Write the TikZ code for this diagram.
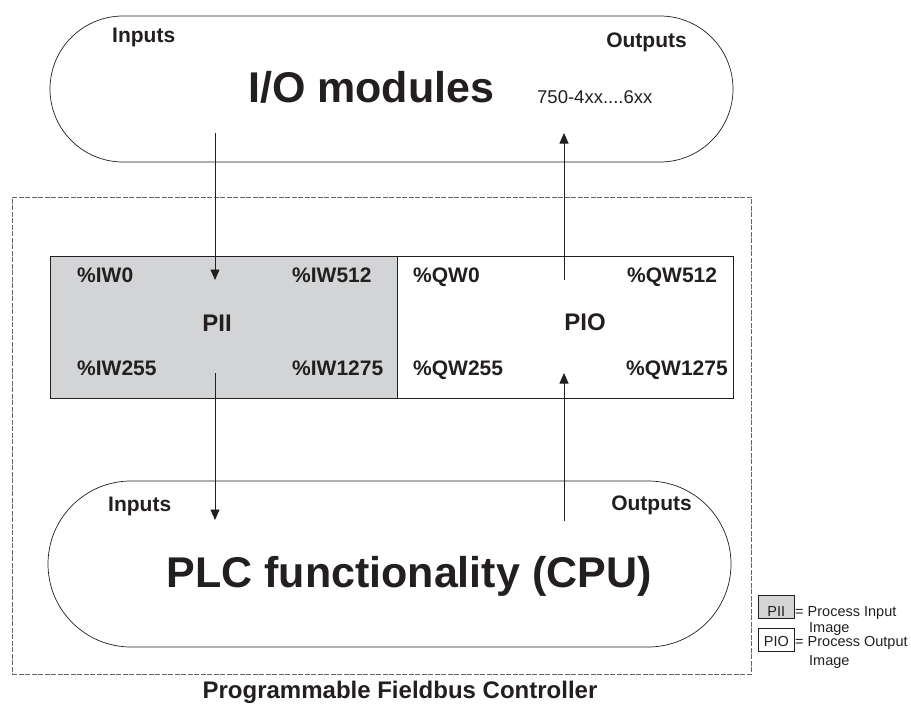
\documentclass[tikz,border=0pt]{standalone}
\usepackage{fontspec}
\setmainfont{Liberation Sans}
\usetikzlibrary{arrows.meta}
\definecolor{piigray}{RGB}{211,212,214}
\definecolor{ink}{RGB}{35,31,32}

\begin{document}
\begin{tikzpicture}[x=1pt,y=-1pt,>={Triangle[width=9pt,length=10.5pt]},
  lbl/.style={font=\fontsize{21}{21}\selectfont\bfseries,text=ink,inner sep=0pt},
  big/.style={font=\fontsize{43}{43}\selectfont\bfseries,text=ink,inner sep=0pt},
  small/.style={font=\fontsize{14.5}{14.5}\selectfont,text=ink,inner sep=0pt},
  stadium/.style={draw=ink,line width=0.7pt,minimum width=683pt,inner sep=0pt},
  flow/.style={->,draw=ink,line width=0.8pt},
  legbox/.style={small,draw=ink,line width=0.7pt,minimum width=36pt,minimum height=23pt,
    inner sep=0pt,text depth=0pt,anchor=north west}]
  \useasboundingbox (0,0) rectangle (911,704);
  % controller frame
  \node[draw=gray!80!black,line width=0.7pt,dash pattern=on 5pt off 1.5pt,
    minimum width=739pt,minimum height=477pt,inner sep=0pt] (pfc) at (381.5,435.5) {};
  \node[font=\fontsize{24}{24}\selectfont\bfseries,text=ink,inner sep=0pt,anchor=base]
    (pfclbl) at (400,698) {Programmable Fieldbus Controller};

  % I/O modules
  \node[stadium,minimum height=146pt,rounded corners=73pt] (io) at (391.5,89) {};
  \node[lbl,anchor=base west] (ioin) at (112,42) {Inputs};
  \node[lbl,anchor=base east] (ioout) at (687,47) {Outputs};
  \node[big,anchor=base west] (iolbl) at (248,102) {I/O modules};
  \node[font=\fontsize{18.5}{18.5}\selectfont,text=ink,inner sep=0pt,anchor=base west]
    (iotype) at (537,103) {750-4xx....6xx};

  % process images
  \node[draw=ink,line width=0.7pt,fill=piigray,minimum width=347pt,minimum height=142pt,
    inner sep=0pt] (pii) at (223.5,327) {};
  \node[draw=ink,line width=0.7pt,minimum width=336pt,minimum height=142pt,
    inner sep=0pt] (pio) at (565,327) {};
  \foreach \name/\txt/\x/\y in {iw0/{\%IW0}/77/282, iw512/{\%IW512}/292/282,
      iw255/{\%IW255}/77/375, iw1275/{\%IW1275}/292/375,
      qw0/{\%QW0}/413/282, qw512/{\%QW512}/627/282,
      qw255/{\%QW255}/413/375, qw1275/{\%QW1275}/626/375}
    \node[lbl,anchor=base west] (\name) at (\x,\y) {\txt};
  \node[lbl,font=\fontsize{24}{24}\selectfont\bfseries,anchor=base] (piilbl) at (217,331) {PII};
  \node[lbl,font=\fontsize{24}{24}\selectfont\bfseries,anchor=base] (piolbl) at (585,330) {PIO};

  % PLC
  \node[stadium,minimum height=166pt,rounded corners=83pt] (plc) at (389.5,564) {};
  \node[lbl,anchor=base west] (plcin) at (108,511) {Inputs};
  \node[lbl,anchor=base east] (plcout) at (692,510) {Outputs};
  \node[big,anchor=base] (plclbl) at (409,587) {PLC functionality (CPU)};

  % data flow
  \coordinate (a1) at (215,133);  \coordinate (b1) at (215,280);
  \coordinate (a2) at (215,373);  \coordinate (b2) at (215,520);
  \coordinate (a3) at (564,521);  \coordinate (b3) at (564,373);
  \coordinate (a4) at (564,280);  \coordinate (b4) at (564,133);
  \foreach \i in {1,...,4}
    \draw[flow] (a\i) -- (b\i);

  % legend
  \node[legbox,fill=piigray,text height=19pt] (kpii) at (758,595) {PII\hspace{7pt}};
  \node[legbox,text height=13pt] (kpio) at (758,628) {PIO};
  \node[small,anchor=base west] (kpiitxt) at (795,616) {= Process Input};
  \node[small,anchor=base west] (kpiiimg) at (809,632) {Image};
  \node[small,anchor=base west] (kpiotxt) at (795,646) {= Process Output};
  \node[small,anchor=base west] (kpioimg) at (809,665) {Image};
\end{tikzpicture}
\end{document}
